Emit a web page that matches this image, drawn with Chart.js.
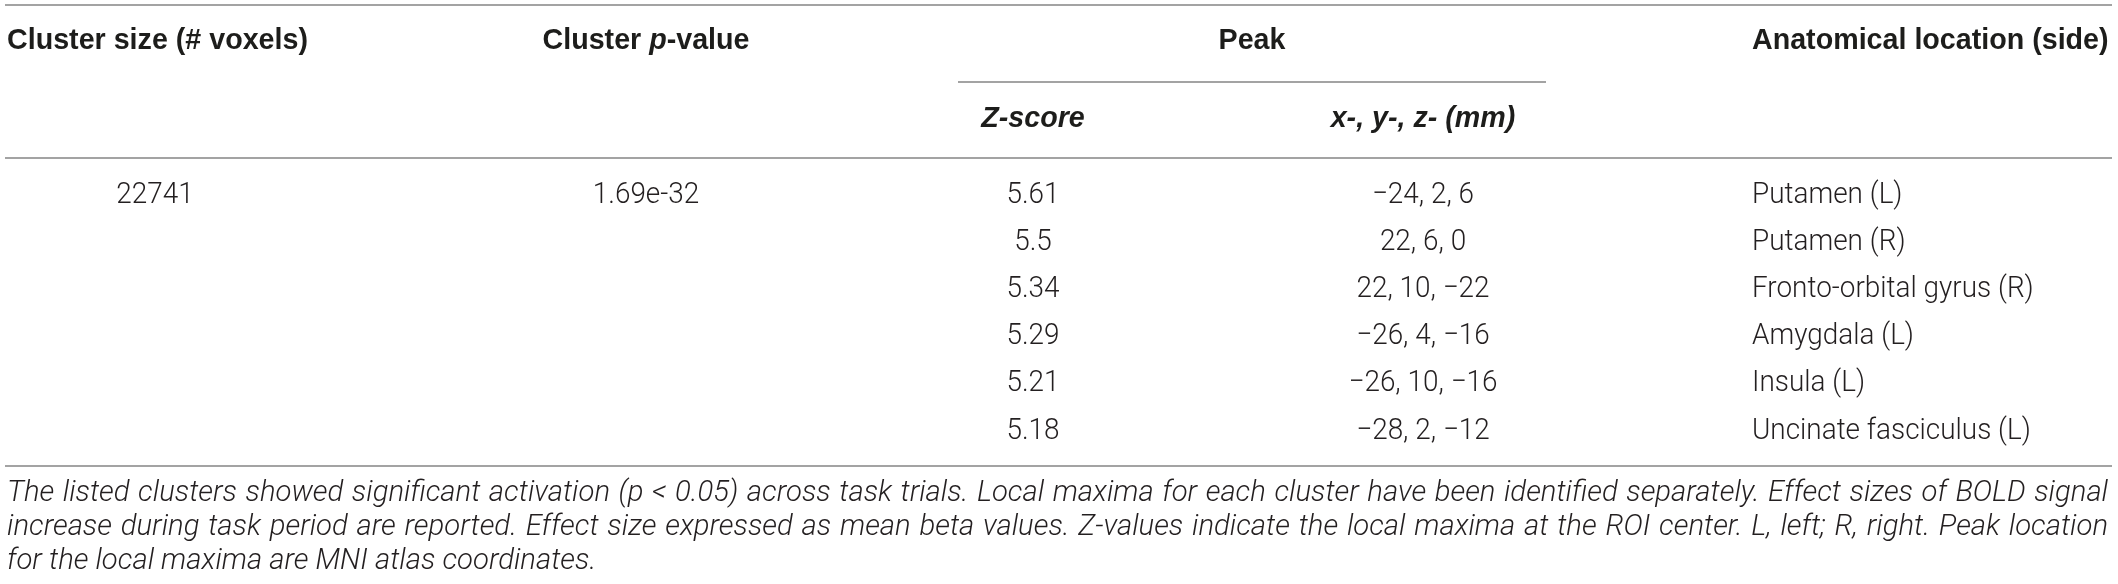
<!DOCTYPE html>
<html>
<head>
<meta charset="utf-8">
<script src="https://cdn.jsdelivr.net/npm/chart.js@4.4.1/dist/chart.umd.min.js"></script>
<style>
  html, body { margin: 0; padding: 0; background: #fff; }
  #wrap { width: 2118px; height: 584px; position: relative; }
</style>
</head>
<body>
<div id="wrap"><canvas id="table"></canvas></div>
<script>
// table contents (underscores mark italic runs)
const headerTop = ['Cluster size (# voxels)', 'Cluster _p_-value', 'Peak', 'Anatomical location (side)'];
const headerSub = ['_Z-score_', '_x-, y-, z- (mm)_'];
const clusterSizes = ['22741'];
const clusterPValues = ['1.69e-32'];
const zScores = [5.61, 5.5, 5.34, 5.29, 5.21, 5.18];
const peakX = [-24, 22, 22, -26, -26, -28];
const peakY = [2, 6, 10, 4, 10, 2];
const peakZ = [6, 0, -22, -16, -16, -12];
const locations = ['Putamen (L)', 'Putamen (R)', 'Fronto-orbital gyrus (R)', 'Amygdala (L)', 'Insula (L)', 'Uncinate fasciculus (L)'];
const noteLines = [
    'The listed clusters showed significant activation (p < 0.05) across task trials. Local maxima for each cluster have been identified separately. Effect sizes of BOLD signal',
    'increase during task period are reported. Effect size expressed as mean beta values. Z-values indicate the local maxima at the ROI center. L, left; R, right. Peak location',
    'for the local maxima are MNI atlas coordinates.'
];

// layout, in page pixels (x and y scales run 0..W and 0..H)
const W = 2118, H = 584;
const colX = { size: 155, pval: 646, z: 1033, xyz: 1423, loc: 1752 };
const rowY0 = 195, rowStep = 47.2;
const rules = { left: 5, right: 2112, top: 5, head: 158, bottom: 466 };
const peakRule = { y: 82, x0: 958, x1: 1546 };
const headY = { top: 41, sub: 118.5 };
const noteBox = { x0: 7, x1: 2108, y0: 494, step: 34 };

const HEAD_FAMILY = '"Liberation Sans", Arial, Helvetica, sans-serif';
const BODY_FAMILY = 'Roboto, "Liberation Sans", Arial, sans-serif';
const styles = {
    head: { family: HEAD_FAMILY, weight: 'bold', size: 30, sx: 0.955, color: '#1d1d1b', italic: false },
    cell: { family: BODY_FAMILY, weight: '300', size: 30, sx: 0.93, color: '#231f20', italic: false },
    note: { family: BODY_FAMILY, weight: '300', size: 29, sx: 1.01, color: '#231f20', italic: true }
};

const fmtSigned = v => (v < 0 ? '\u2212' + Math.abs(v) : String(v));
const peakCoords = peakX.map((px, i) => [px, peakY[i], peakZ[i]].map(fmtSigned).join(', '));

function parseRuns(s) {
    return s.split('_').map((t, i) => ({ text: t, italic: i % 2 === 1 })).filter(r => r.text);
}

function fontFor(style, italic) {
    return (italic || style.italic ? 'italic ' : '') + style.weight + ' ' + style.size + 'px ' + style.family;
}

function textWidth(ctx, runs, style) {
    let w = 0;
    runs.forEach(r => { ctx.font = fontFor(style, r.italic); w += ctx.measureText(r.text).width; });
    return w * style.sx;
}

function drawRuns(ctx, runs, x, y, align, style) {
    const total = textWidth(ctx, runs, style);
    const start = align === 'center' ? x - total / 2 : (align === 'right' ? x - total : x);
    ctx.save();
    ctx.fillStyle = style.color;
    ctx.textBaseline = 'middle';
    ctx.textAlign = 'left';
    ctx.translate(start, y);
    ctx.scale(style.sx, 1);
    let cx = 0;
    runs.forEach(r => {
        ctx.font = fontFor(style, r.italic);
        ctx.fillText(r.text, cx, 0);
        cx += ctx.measureText(r.text).width;
    });
    ctx.restore();
}

function drawJustified(ctx, line, x0, x1, y, style) {
    const words = line.split(' ');
    const widths = words.map(w => textWidth(ctx, [{ text: w }], style));
    const sum = widths.reduce((a, b) => a + b, 0);
    const gap = (x1 - x0 - sum) / (words.length - 1);
    let cx = x0;
    words.forEach((w, i) => {
        drawRuns(ctx, [{ text: w }], cx, y, 'left', style);
        cx += widths[i] + gap;
    });
}

function hLine(ctx, xs, ys, a, b, y) {
    ctx.beginPath();
    ctx.moveTo(xs.getPixelForValue(a), ys.getPixelForValue(y));
    ctx.lineTo(xs.getPixelForValue(b), ys.getPixelForValue(y));
    ctx.stroke();
}

const tablePlugin = {
    id: 'tableDraw',
    afterDatasetsDraw(chart) {
        const { ctx, scales: { x, y } } = chart;

        // rules
        ctx.save();
        ctx.strokeStyle = '#858585';
        ctx.lineWidth = 1.5;
        hLine(ctx, x, y, rules.left, rules.right, rules.top);
        hLine(ctx, x, y, rules.left, rules.right, rules.head);
        hLine(ctx, x, y, rules.left, rules.right, rules.bottom);
        hLine(ctx, x, y, peakRule.x0, peakRule.x1, peakRule.y);
        ctx.restore();

        // header rows
        const yTop = y.getPixelForValue(headY.top);
        const ySub = y.getPixelForValue(headY.sub);
        drawRuns(ctx, parseRuns(headerTop[0]), x.getPixelForValue(7), yTop, 'left', styles.head);
        drawRuns(ctx, parseRuns(headerTop[1]), x.getPixelForValue(colX.pval), yTop, 'center', styles.head);
        drawRuns(ctx, parseRuns(headerTop[2]), x.getPixelForValue((peakRule.x0 + peakRule.x1) / 2), yTop, 'center', styles.head);
        drawRuns(ctx, parseRuns(headerTop[3]), x.getPixelForValue(colX.loc), yTop, 'left', styles.head);
        drawRuns(ctx, parseRuns(headerSub[0]), x.getPixelForValue(colX.z), ySub, 'center', styles.head);
        drawRuns(ctx, parseRuns(headerSub[1]), x.getPixelForValue(colX.xyz), ySub, 'center', styles.head);

        // body cells, placed at each dataset point
        chart.data.datasets.forEach((ds, di) => {
            const meta = chart.getDatasetMeta(di);
            meta.data.forEach((pt, i) => {
                drawRuns(ctx, [{ text: ds.cells[i] }], pt.x, pt.y, ds.align, styles.cell);
            });
        });

        // footnote
        const nx0 = x.getPixelForValue(noteBox.x0);
        const nx1 = x.getPixelForValue(noteBox.x1);
        noteLines.forEach((line, i) => {
            const ny = y.getPixelForValue(noteBox.y0 + i * noteBox.step);
            if (i < noteLines.length - 1) drawJustified(ctx, line, nx0, nx1, ny, styles.note);
            else drawRuns(ctx, [{ text: line }], nx0, ny, 'left', styles.note);
        });
    }
};

function column(label, cells, xPos, align) {
    return {
        label: label,
        data: cells.map((_, i) => ({ x: xPos, y: rowY0 + i * rowStep })),
        cells: cells,
        align: align,
        pointRadius: 0,
        pointHoverRadius: 0,
        showLine: false
    };
}

new Chart(document.getElementById('table'), {
    type: 'scatter',
    data: {
        datasets: [
            column('Cluster size', clusterSizes, colX.size, 'center'),
            column('Cluster p-value', clusterPValues, colX.pval, 'center'),
            column('Z-score', zScores.map(String), colX.z, 'center'),
            column('Peak coordinates', peakCoords, colX.xyz, 'center'),
            column('Anatomical location', locations, colX.loc, 'left')
        ]
    },
    options: {
        responsive: true,
        maintainAspectRatio: false,
        animation: false,
        layout: { padding: 0 },
        plugins: { legend: { display: false }, tooltip: { enabled: false } },
        scales: {
            x: { type: 'linear', display: false, min: 0, max: W },
            y: { type: 'linear', display: false, min: 0, max: H, reverse: true }
        }
    },
    plugins: [tablePlugin]
});
</script>
</body>
</html>
